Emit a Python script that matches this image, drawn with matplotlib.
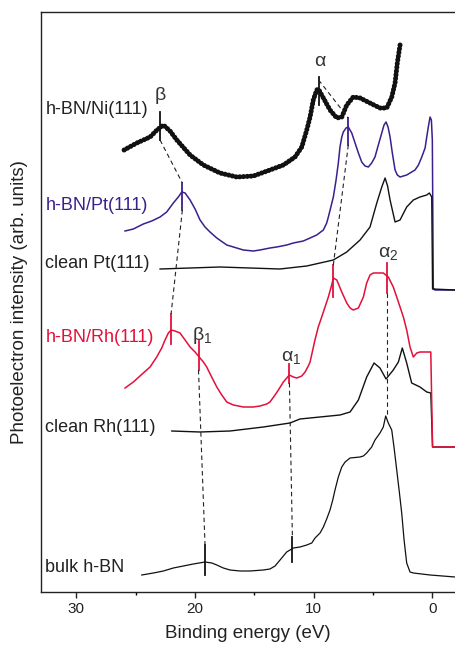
import matplotlib
matplotlib.use("Agg")
import matplotlib.pyplot as plt

plt.rcParams['font.family'] = ['Liberation Sans', 'DejaVu Sans']

# spectra: binding energy (eV), intensity (arb. units)
ni_e = [25.97, 24.90, 23.78, 23.20, 22.66, 22.10, 21.53, 20.41, 19.29, 17.89, 16.48,
        15.08, 13.68, 12.55, 11.57, 11.00, 10.58, 10.30, 10.03, 9.74, 9.60, 9.18,
        8.62, 8.05, 7.63, 7.21, 6.66, 6.09, 5.26, 4.41, 3.84, 3.42, 3.14, 2.95, 2.72]
ni_i = [442, 449, 455, 462, 467, 461, 452, 437, 427, 419, 415,
        416, 422, 427, 435, 445, 462, 475, 492, 502, 503, 494,
        482, 474, 475, 487, 495, 494, 489, 484, 484, 495, 509, 529, 547]

pt_e = [25.89, 25.19, 24.35, 23.64, 22.94, 22.38, 21.82, 21.40, 21.11, 20.83, 20.41,
        19.99, 19.57, 19.15, 18.73, 18.16, 17.32, 16.48, 15.92, 15.08, 14.52, 13.68,
        13.11, 12.27, 11.71, 10.87, 10.30, 9.74, 9.18, 8.90, 8.76, 8.34, 8.11, 7.92,
        7.78, 7.63, 7.50, 7.27, 7.08, 6.79, 6.51, 6.23, 5.95, 5.67, 5.39, 5.11, 4.83,
        4.55, 4.26, 4.07, 3.90, 3.73, 3.56, 3.37, 3.14, 2.95, 2.72, 2.16, 1.46, 1.17,
        0.89, 0.61, 0.47, 0.34, 0.19, 0.08, 0.0, -0.08, -0.2, -1.91]
pt_i = [361, 363, 368, 371, 375, 380, 389, 395, 400, 399, 392,
        383, 372, 365, 360, 354, 347, 344, 342, 341, 342, 344,
        345, 347, 349, 351, 354, 357, 362, 369, 375, 395, 412, 429,
        445, 455, 460, 464, 465, 459, 449, 439, 430, 426, 425, 429, 435,
        447, 459, 467, 470, 465, 455, 439, 422, 417, 415, 417, 422, 427,
        435, 444, 455, 465, 475, 472, 452, 304, 302, 302]

cpt_e = [22.94, 17.89, 12.84, 10.58, 8.34, 7.21, 6.09, 5.25, 4.68, 4.26, 3.98, 3.77,
         3.56, 3.14, 2.72, 2.16, 1.60, 1.04, 0.47, 0.25, 0.05, -0.02, -1.91]
cpt_i = [323, 325, 323, 326, 332, 340, 352, 365, 389, 405, 414, 406,
         392, 370, 372, 385, 392, 395, 397, 399, 395, 303, 302]

rh_e = [25.89, 25.19, 24.35, 23.78, 23.22, 22.80, 22.52, 22.24, 22.01, 21.68, 21.26,
        20.83, 20.41, 19.99, 19.71, 19.29, 19.01, 18.59, 18.16, 17.74, 17.32, 16.76,
        15.92, 15.08, 14.52, 13.95, 13.68, 13.25, 12.97, 12.55, 12.05, 11.71, 11.42,
        11.00, 10.72, 10.45, 10.30, 9.89, 9.61, 9.32, 9.04, 8.76, 8.48, 8.34, 8.05,
        7.63, 7.21, 6.93, 6.66, 6.23, 5.81, 5.53, 5.25, 4.97, 4.13, 3.71, 3.29, 3.00,
        2.72, 2.44, 2.16, 1.88, 1.60, 1.31, 1.04, 0.34, 0.13, -0.02, -1.91]
rh_i = [204, 210, 219, 225, 235, 244, 252, 259, 262, 261, 259,
        252, 245, 240, 236, 230, 225, 215, 205, 197, 190, 187,
        185, 185, 186, 188, 190, 197, 202, 210, 217, 215, 214,
        216, 220, 226, 230, 252, 265, 275, 285, 295, 307, 314, 312,
        300, 289, 284, 282, 284, 295, 309, 317, 319, 319, 315, 305, 295,
        285, 275, 262, 245, 235, 239, 240, 240, 240, 145, 145]

crh_e = [21.95, 19.57, 17.04, 14.24, 11.99, 11.15, 9.47, 7.78, 6.93, 6.23, 5.53, 4.91,
         4.41, 3.90, 3.29, 2.86, 2.53, 2.16, 1.74, 1.04, 0.47, 0.13, -0.02, -1.91]
crh_i = [161, 160, 161, 165, 169, 173, 175, 177, 180, 192, 215, 229,
         224, 213, 222, 230, 244, 229, 209, 205, 200, 199, 145, 145]

bulk_e = [24.48, 23.50, 22.66, 21.82, 20.98, 20.14, 19.15, 18.58, 18.16, 17.61, 17.04,
          16.20, 15.36, 14.24, 13.68, 13.25, 12.97, 12.55, 12.27, 11.99, 11.71, 11.15,
          10.58, 10.16, 9.88, 9.46, 9.18, 8.90, 8.62, 8.39, 8.20, 7.92, 7.63, 7.35,
          6.93, 6.09, 5.81, 5.53, 5.11, 4.83, 4.41, 4.13, 3.93, 3.71, 3.42, 3.23, 3.00,
          2.78, 2.58, 2.38, 2.16, 1.88, 1.60, 0.19, -1.91]
bulk_i = [17, 19, 21, 24, 26, 28, 30, 29, 27, 24, 22,
          21, 21, 22, 23, 26, 30, 36, 40, 42, 44, 45,
          47, 49, 54, 59, 65, 73, 82, 92, 102, 115, 125, 130,
          134, 135, 136, 139, 145, 152, 159, 165, 176, 169, 162, 145, 122,
          100, 79, 52, 29, 20, 19, 17, 15]

# peak markers: energy, bottom, top
ni_marks = [(22.94, 452, 480), (9.58, 487, 515)]
pt_marks = [(21.06, 382, 409), (7.08, 447, 474)]
rh_marks = [(22.01, 248, 278), (19.70, 222, 251), (12.04, 209, 228),
            (8.34, 295, 327), (3.84, 299, 329)]
bulk_marks = [(19.15, 17, 47), (11.79, 30, 55)]

# dashed guides between peaks
guides = [((22.94, 21.06), (452, 409)), ((21.06, 22.01), (382, 278)),
          ((19.70, 19.15), (222, 47)), ((9.58, 7.08), (512, 474)),
          ((7.08, 8.34), (447, 327)), ((12.04, 11.79), (209, 55)),
          ((3.84, 3.84), (299, 176))]

pt_col = '#3b1f8e'
rh_col = '#e3103a'

fig = plt.figure(figsize=(4.55, 6.52), dpi=100)
ax = fig.add_axes([41/455, 60/652, 414/455, 580/652])

ax.plot(ni_e, ni_i, color='#111111', lw=3.6, ls=(0, (0.05, 0.7)),
        dash_capstyle='round')
ax.plot(pt_e, pt_i, color=pt_col, lw=1.1)
ax.plot(cpt_e, cpt_i, color='#111111', lw=1.0)
ax.plot(crh_e, crh_i, color='#111111', lw=1.0)
ax.plot(rh_e, rh_i, color=rh_col, lw=1.1)
ax.plot(bulk_e, bulk_i, color='#111111', lw=0.9)

for marks, col in [(ni_marks, '#111111'), (pt_marks, pt_col),
                   (rh_marks, rh_col), (bulk_marks, '#111111')]:
    for e, lo, hi in marks:
        ax.plot([e, e], [lo, hi], color=col, lw=1.3)

for xs, ys in guides:
    ax.plot(xs, ys, color='#222222', lw=0.8, ls=(0, (4, 3)))

# curve names on the left
lab_kw = dict(fontsize=13, ha='left', va='center')
ax.text(32.6, 482, 'h-BN/Ni(111)', color='#222222', **lab_kw)
ax.text(32.6, 387, 'h-BN/Pt(111)', color=pt_col, **lab_kw)
ax.text(32.6, 329, 'clean Pt(111)', color='#222222', **lab_kw)
ax.text(32.6, 255, 'h-BN/Rh(111)', color=rh_col, **lab_kw)
ax.text(32.6, 165, 'clean Rh(111)', color='#222222', **lab_kw)
ax.text(32.6, 24, 'bulk h-BN', color='#222222', **lab_kw)

# greek peak labels
gk = dict(fontsize=14, ha='center', va='center', color='#333333')
ax.text(22.94, 497, 'β', **gk)
ax.text(9.45, 530, 'α', **gk)
ax.text(19.4, 257, r'$\mathregular{β_1}$', **gk)
ax.text(11.9, 235, r'$\mathregular{α_1}$', **gk)
ax.text(3.7, 339, r'$\mathregular{α_2}$', **gk)

ax.set_xlim(32.97, -1.91)
ax.set_ylim(0, 580)
ax.set_xticks([30, 20, 10, 0])
ax.set_xticks([25, 15, 5], minor=True)
ax.set_yticks([])
ax.tick_params(axis='x', which='major', direction='out', length=4.5, width=1,
               labelsize=11, pad=3, colors='#222222')
ax.tick_params(axis='x', which='minor', direction='out', length=2.5, width=1)
ax.spines['right'].set_visible(False)
for s in ['left', 'bottom', 'top']:
    ax.spines[s].set_linewidth(1.0)
    ax.spines[s].set_color('#222222')

ax.set_xlabel('Binding energy (eV)', fontsize=13.5, color='#222222', labelpad=6)
ax.set_ylabel('Photoelectron intensity (arb. units)', fontsize=13.5,
              color='#222222', labelpad=9)

fig.savefig('out.png', dpi=100)
